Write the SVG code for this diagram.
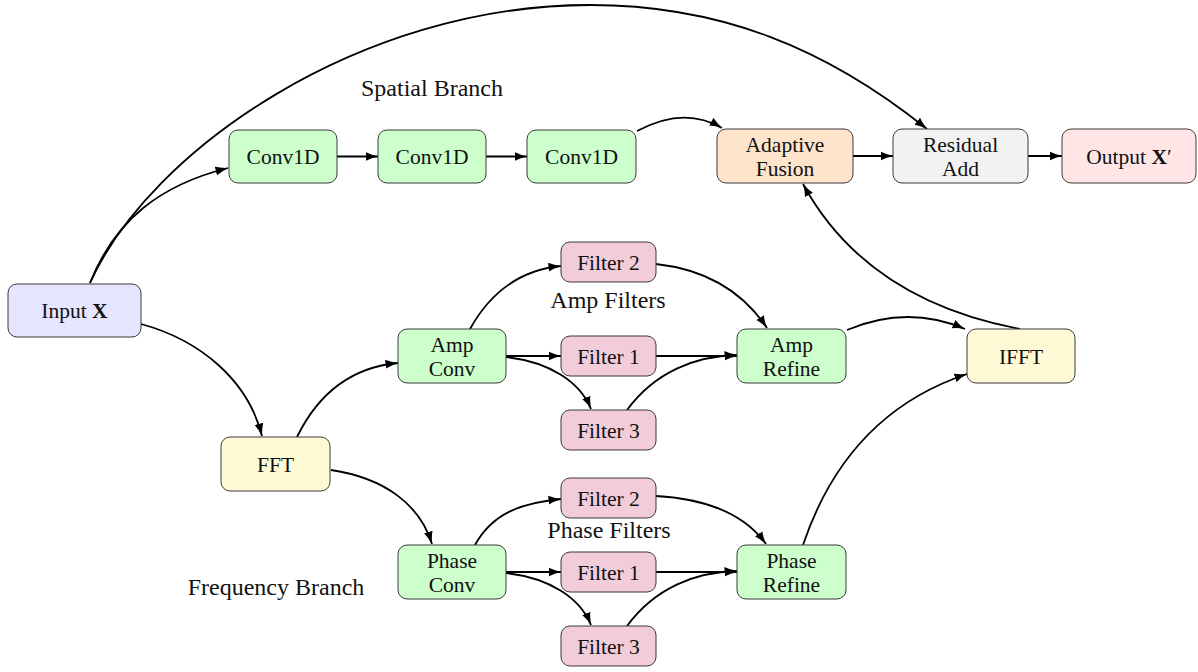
<svg xmlns="http://www.w3.org/2000/svg" width="1198" height="672" viewBox="0 0 1198 672">
  <defs>
    <marker id="arrow" markerUnits="userSpaceOnUse" markerWidth="13" markerHeight="10" viewBox="0 0 13 10" refX="12.5" refY="5" orient="auto">
      <path d="M0,0.6 Q5.5,3.5 13,5 Q5.5,6.5 0,9.4 z" fill="#000"/>
    </marker>
    <style>
      .node rect { stroke: #3a3a3a; stroke-width: 1; }
      .blue { fill: #E5E5FF; }
      .green { fill: #CCFFCC; }
      .orange { fill: #FFE4CC; }
      .gray { fill: #F2F2F2; }
      .red { fill: #FFE5E5; }
      .yellow { fill: #FFFAD6; }
      .pink { fill: #F2CCD9; }
      text { font-family: "Liberation Serif", "Times New Roman", serif; fill: #111; text-anchor: middle; }
      .t { font-size: 21.5px; }
      .lbl { font-size: 24px; }
      .edges path { fill: none; stroke: #000; stroke-width: 1.8; marker-end: url(#arrow); }
    </style>
  </defs>
  <rect width="1198" height="672" fill="#fff"/>

  <!-- group labels -->
  <g id="labels">
    <text class="lbl" x="432" y="96">Spatial Branch</text>
    <text class="lbl" x="608" y="308">Amp Filters</text>
    <text class="lbl" x="609" y="538">Phase Filters</text>
    <text class="lbl" x="276" y="595">Frequency Branch</text>
  </g>

  <!-- connectors -->
  <g id="edges" class="edges">
    <!-- spatial branch -->
    <path d="M90,283 C115,220 160,185 228,168"/>
    <path d="M90,283 C150,150 360,5 590,5 C720,5 826,48 927,129"/>
    <path d="M337,156.5 H378"/>
    <path d="M486,156.5 H527"/>
    <path d="M637,131 C665,116 695,112 722,128"/>
    <path d="M853,156 H893"/>
    <path d="M1028,156 H1062"/>
    <path d="M1020,329 C930,312 850,270 803,184"/>
    <!-- frequency branch -->
    <path d="M141,324 C200,340 248,380 262,436"/>
    <path d="M297,437 C320,390 355,367 398,363"/>
    <path d="M331,470 C385,478 420,505 432,544"/>
    <!-- amplitude filters -->
    <path d="M470,329 C490,293 520,270 561,266"/>
    <path d="M506,356 H561"/>
    <path d="M506,357 C550,362 580,382 591,409"/>
    <path d="M656,264 C710,270 745,295 767,328"/>
    <path d="M656,356 H737"/>
    <path d="M627,410 C655,372 695,356 737,355"/>
    <path d="M847,330 C885,314 925,312 965,329"/>
    <!-- phase filters -->
    <path d="M475,545 C492,514 520,503 561,499"/>
    <path d="M506,572 H561"/>
    <path d="M506,573 C550,578 580,598 591,625"/>
    <path d="M656,496 C710,499 745,515 766,544"/>
    <path d="M656,572 H737"/>
    <path d="M627,626 C655,588 695,572 737,571"/>
    <path d="M803,545 C835,450 895,398 967,374"/>
  </g>

  <!-- nodes -->
  <g id="input" class="node"><rect class="blue" x="8" y="284" width="133" height="53" rx="9"/><text class="t" x="74.5" y="318">Input <tspan font-weight="bold">X</tspan></text></g>
  <g id="conv1" class="node"><rect class="green" x="229" y="130" width="108" height="53" rx="9"/><text class="t" x="283" y="164">Conv1D</text></g>
  <g id="conv2" class="node"><rect class="green" x="378" y="130" width="108" height="53" rx="9"/><text class="t" x="432" y="164">Conv1D</text></g>
  <g id="conv3" class="node"><rect class="green" x="527" y="130" width="109" height="53" rx="9"/><text class="t" x="581.5" y="164">Conv1D</text></g>
  <g id="fusion" class="node"><rect class="orange" x="717" y="129" width="136" height="54" rx="9"/><text class="t" x="785" y="151.5">Adaptive</text><text class="t" x="785" y="175.5">Fusion</text></g>
  <g id="residual" class="node"><rect class="gray" x="893" y="129" width="135" height="54" rx="9"/><text class="t" x="960.5" y="151.5">Residual</text><text class="t" x="960.5" y="175.5">Add</text></g>
  <g id="output" class="node"><rect class="red" x="1062" y="129" width="134" height="54" rx="9"/><text class="t" x="1129" y="163.5">Output <tspan font-weight="bold">X</tspan>′</text></g>

  <g id="fft" class="node"><rect class="yellow" x="221" y="437" width="109" height="54" rx="9"/><text class="t" x="275.5" y="471.5">FFT</text></g>
  <g id="ifft" class="node"><rect class="yellow" x="967" y="329" width="108" height="54" rx="9"/><text class="t" x="1021" y="363.5">IFFT</text></g>

  <g id="ampconv" class="node"><rect class="green" x="398" y="329" width="108" height="54" rx="9"/><text class="t" x="452" y="351.5">Amp</text><text class="t" x="452" y="375.5">Conv</text></g>
  <g id="ampf2" class="node"><rect class="pink" x="561" y="242" width="95" height="40" rx="9"/><text class="t" x="608.5" y="269.5">Filter 2</text></g>
  <g id="ampf1" class="node"><rect class="pink" x="561" y="336" width="95" height="40" rx="9"/><text class="t" x="608.5" y="363.5">Filter 1</text></g>
  <g id="ampf3" class="node"><rect class="pink" x="561" y="410" width="95" height="40" rx="9"/><text class="t" x="608.5" y="437.5">Filter 3</text></g>
  <g id="amprefine" class="node"><rect class="green" x="737" y="329" width="109" height="54" rx="9"/><text class="t" x="791.5" y="351.5">Amp</text><text class="t" x="791.5" y="375.5">Refine</text></g>

  <g id="phaseconv" class="node"><rect class="green" x="398" y="545" width="108" height="54" rx="9"/><text class="t" x="452" y="567.5">Phase</text><text class="t" x="452" y="591.5">Conv</text></g>
  <g id="phasef2" class="node"><rect class="pink" x="561" y="478" width="95" height="40" rx="9"/><text class="t" x="608.5" y="505.5">Filter 2</text></g>
  <g id="phasef1" class="node"><rect class="pink" x="561" y="552" width="95" height="40" rx="9"/><text class="t" x="608.5" y="579.5">Filter 1</text></g>
  <g id="phasef3" class="node"><rect class="pink" x="561" y="626" width="95" height="40" rx="9"/><text class="t" x="608.5" y="653.5">Filter 3</text></g>
  <g id="phaserefine" class="node"><rect class="green" x="737" y="545" width="109" height="54" rx="9"/><text class="t" x="791.5" y="567.5">Phase</text><text class="t" x="791.5" y="591.5">Refine</text></g>
</svg>
